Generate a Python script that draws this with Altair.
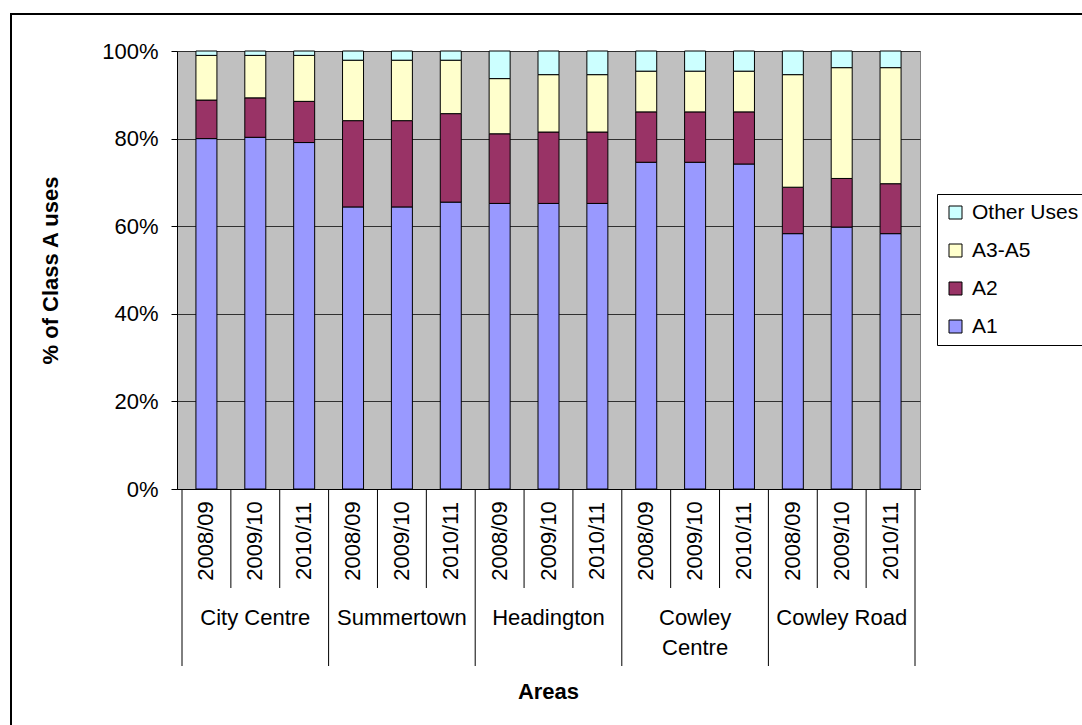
import altair as alt
import pandas as pd

# Class A use shares (%) by area and monitoring year
areas = ["City Centre", "Summertown", "Headington", "Cowley\nCentre", "Cowley Road"]
years = ["2008/09", "2009/10", "2010/11"]
series = ["Other Uses", "A3-A5", "A2", "A1"]
colors = ["#CCFFFF", "#FFFFCC", "#993366", "#9999FF"]

a1 = [80.0, 80.3, 79.1, 64.4, 64.4, 65.5, 65.2, 65.2, 65.2, 74.6, 74.6, 74.2, 58.3, 59.8, 58.3]
a2 = [8.8, 9.0, 9.4, 19.7, 19.7, 20.2, 15.9, 16.3, 16.3, 11.5, 11.5, 11.9, 10.6, 11.1, 11.4]
a3_a5 = [10.2, 9.7, 10.5, 13.8, 13.8, 12.2, 12.6, 13.1, 13.1, 9.3, 9.3, 9.3, 25.7, 25.3, 26.5]
other = [1.0, 1.0, 1.0, 2.1, 2.1, 2.1, 6.3, 5.4, 5.4, 4.6, 4.6, 4.6, 5.4, 3.8, 3.8]

FONT = "Liberation Sans"
W, H = 743, 438
n_years = len(years)
n_bars = len(areas) * n_years

rows = []
labels = []
for i in range(n_bars):
    area = areas[i // n_years]
    year = years[i % n_years]
    labels.append({"pos": i + 0.5, "year": year})
    for order, (name, vals) in enumerate(
        [("A1", a1), ("A2", a2), ("A3-A5", a3_a5), ("Other Uses", other)]
    ):
        rows.append({"pos": i + 0.5, "area": area, "year": year,
                     "series": name, "value": vals[i], "ord": order})
bars_df = pd.DataFrame(rows)
years_df = pd.DataFrame(labels)
areas_df = pd.DataFrame({"pos": [g * n_years + n_years / 2 for g in range(len(areas))],
                         "area": areas})
minor_sep = pd.DataFrame({"pos": [i for i in range(1, n_bars) if i % n_years]})
major_sep = pd.DataFrame({"pos": [g * n_years for g in range(len(areas) + 1)]})

xscale = alt.Scale(domain=[0, n_bars], nice=False, zero=False)

bars = alt.Chart(bars_df).mark_bar(size=21, stroke="black", strokeWidth=1).encode(
    x=alt.X("pos:Q", scale=xscale,
            axis=alt.Axis(labels=False, ticks=False, grid=False, title=None,
                          domainColor="black", domainWidth=1)),
    y=alt.Y("value:Q", stack="normalize",
            axis=alt.Axis(format=".0%", values=[0, 0.2, 0.4, 0.6, 0.8, 1.0],
                          title="% of Class A uses", titleFont=FONT,
                          titleFontSize=22, titleFontWeight="bold",
                          titleColor="black", titleAngle=270,
                          titleX=-127, titleY=H / 2, titleAlign="center",
                          titleBaseline="middle",
                          labelFont=FONT, labelFontSize=22, labelColor="black",
                          labelPadding=13, tickSize=6, tickColor="black",
                          domainColor="black", gridColor="#303030", gridWidth=1)),
    fill=alt.Fill("series:N", scale=alt.Scale(domain=series, range=colors),
                  legend=alt.Legend(title=None, orient="none", legendX=760, legendY=143,
                                    symbolType="square", symbolSize=169,
                                    symbolStrokeColor="black", symbolStrokeWidth=1,
                                    labelFont=FONT, labelFontSize=21, labelColor="black",
                                    labelOffset=6, rowPadding=16, padding=8,
                                    labelLimit=200,
                                    strokeColor="black", fillColor="white")),
    order=alt.Order("ord:Q"),
)

minor = alt.Chart(minor_sep).mark_rule(color="black", strokeWidth=1).encode(
    x=alt.X("pos:Q", scale=xscale), y=alt.value(H), y2=alt.value(537))
major = alt.Chart(major_sep).mark_rule(color="black", strokeWidth=1).encode(
    x=alt.X("pos:Q", scale=xscale), y=alt.value(H), y2=alt.value(615))

year_text = alt.Chart(years_df).mark_text(
    angle=270, align="center", baseline="middle", font=FONT, fontSize=22, color="black"
).encode(x=alt.X("pos:Q", scale=xscale), y=alt.value(490), text="year:N")

area_text = alt.Chart(areas_df).mark_text(
    align="center", baseline="top", font=FONT, fontSize=22, color="black",
    lineBreak="\n", lineHeight=30
).encode(x=alt.X("pos:Q", scale=xscale), y=alt.value(557), text="area:N")

x_title = alt.Chart(pd.DataFrame({"t": ["Areas"]})).mark_text(
    align="center", baseline="middle", font=FONT, fontSize=22, fontWeight="bold",
    color="black"
).encode(x=alt.value(W / 2), y=alt.value(641), text="t:N")

frame = alt.Chart(pd.DataFrame({"t": [0]})).mark_rect(
    fill=None, stroke="black", strokeWidth=2
).encode(x=alt.value(11 - 177), y=alt.value(14 - 51),
         x2=alt.value(1120 - 177), y2=alt.value(760 - 51))

chart = alt.layer(bars, minor, major, year_text, area_text, x_title, frame).properties(
    width=W, height=H, autosize="none",
    padding={"left": 177, "top": 51, "right": 1082 - 177 - W, "bottom": 725 - 51 - H},
    background="white",
).configure_view(fill="#C0C0C0", stroke="#808080", strokeWidth=1)

chart.save("out.html", embed_options={"renderer": "svg", "actions": False})
